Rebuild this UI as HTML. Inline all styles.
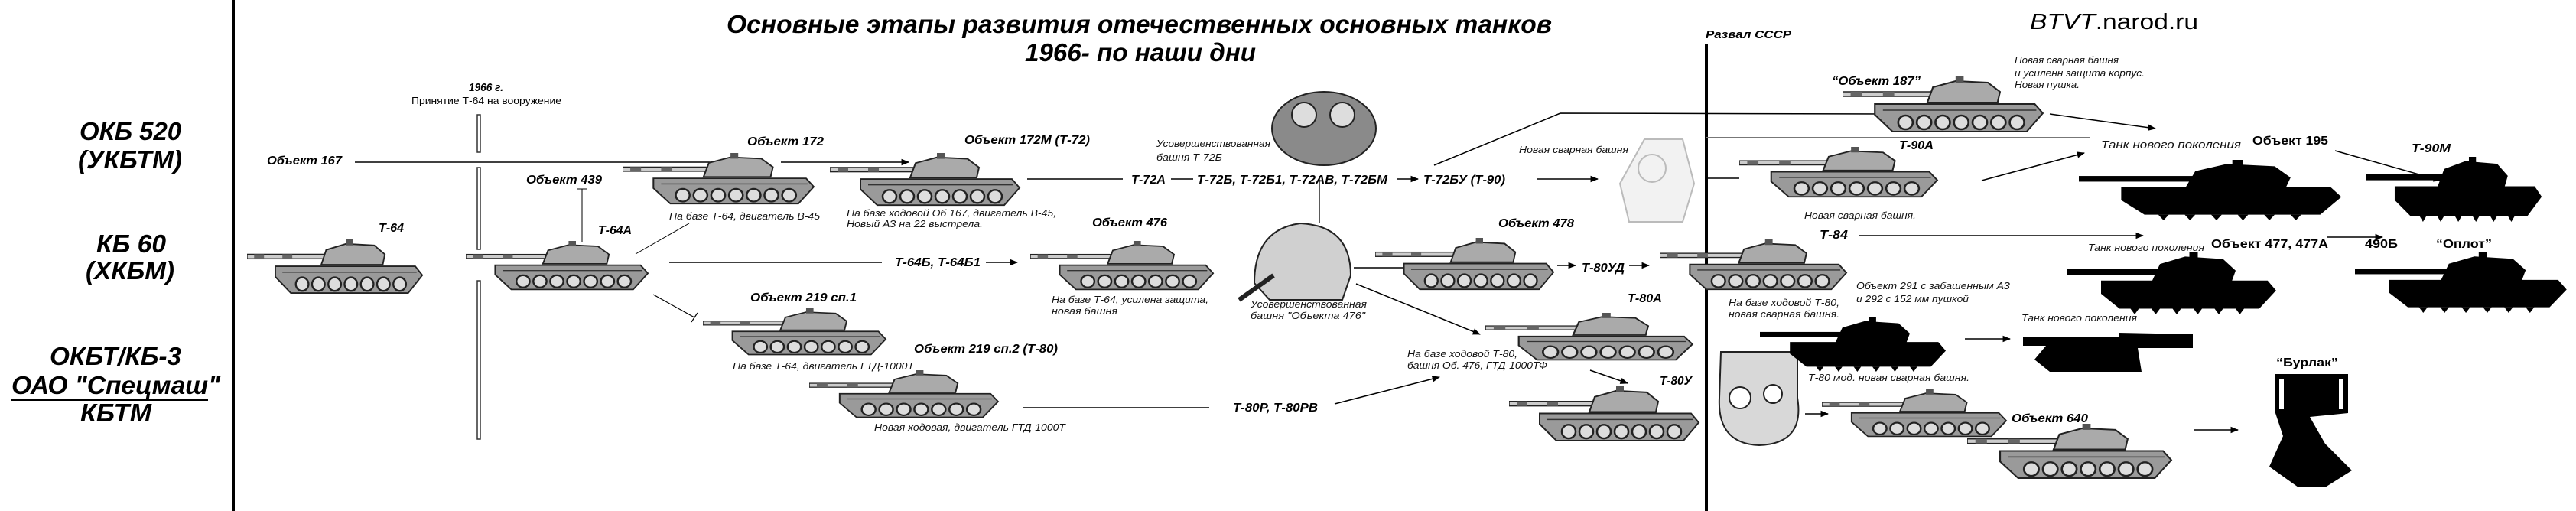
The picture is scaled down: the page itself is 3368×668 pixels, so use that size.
<!DOCTYPE html>
<html><head><meta charset="utf-8">
<style>
html,body{margin:0;padding:0;background:#fff;}
svg{display:block}
text{font-family:"Liberation Sans",sans-serif;}
.b{font-weight:bold;font-style:italic;}
.c{font-style:italic;}
</style></head>
<body>
<svg width="3368" height="668" viewBox="0 0 3368 668" xmlns="http://www.w3.org/2000/svg">
<defs>
<symbol id="lt" viewBox="0 0 250 75" preserveAspectRatio="none">
 <rect x="0" y="20" width="120" height="6" fill="#ccc" stroke="#222" stroke-width="1.5"/>
 <rect x="10" y="20" width="14" height="6" fill="#666"/>
 <rect x="50" y="20" width="14" height="6" fill="#666"/>
 <path d="M105 34 L112 14 L140 6 L180 8 L195 20 L192 34 Z" fill="#aaa" stroke="#222" stroke-width="2"/>
 <rect x="140" y="0" width="10" height="8" fill="#555"/>
 <path d="M40 36 L238 36 L248 48 L228 72 L62 72 L40 50 Z" fill="#9a9a9a" stroke="#222" stroke-width="2"/>
 <line x1="50" y1="44" x2="240" y2="44" stroke="#333" stroke-width="1.5"/>
 <g fill="#ddd" stroke="#222" stroke-width="2.5">
  <circle cx="78" cy="60" r="9"/><circle cx="101" cy="60" r="9"/><circle cx="124" cy="60" r="9"/>
  <circle cx="147" cy="60" r="9"/><circle cx="170" cy="60" r="9"/><circle cx="193" cy="60" r="9"/><circle cx="216" cy="60" r="9"/>
 </g>
</symbol>
<symbol id="st" viewBox="0 0 250 75" preserveAspectRatio="none">
 <rect x="0" y="20" width="120" height="7" fill="#000"/>
 <path d="M100 36 L110 14 L140 5 L185 8 L200 22 L195 36 Z" fill="#000"/>
 <rect x="145" y="0" width="10" height="8" fill="#000"/>
 <path d="M40 34 L238 34 L248 46 L228 68 L62 68 L40 50 Z" fill="#000"/>
 <g fill="#000">
  <path d="M75 68 L80 75 L85 68Z"/><path d="M100 68 L105 75 L110 68Z"/><path d="M125 68 L130 75 L135 68Z"/>
  <path d="M150 68 L155 75 L160 68Z"/><path d="M175 68 L180 75 L185 68Z"/><path d="M200 68 L205 75 L210 68Z"/>
 </g>
</symbol>
<marker id="ar" viewBox="0 0 10 10" refX="9" refY="5" markerWidth="7" markerHeight="7" orient="auto"><path d="M0 1 L10 5 L0 9 Z" fill="#000"/></marker>
</defs>

<rect x="303" y="0" width="4" height="668" fill="#000"/>
<g class="b" font-size="33" fill="#000">
 <text x="104" y="183" textLength="133" lengthAdjust="spacingAndGlyphs">ОКБ 520</text>
 <text x="102" y="220" textLength="136" lengthAdjust="spacingAndGlyphs">(УКБТМ)</text>
 <text x="126" y="330" textLength="91" lengthAdjust="spacingAndGlyphs">КБ 60</text>
 <text x="112" y="365" textLength="116" lengthAdjust="spacingAndGlyphs">(ХКБМ)</text>
 <text x="65" y="477" textLength="172" lengthAdjust="spacingAndGlyphs">ОКБТ/КБ-3</text>
 <text x="15" y="515" textLength="273" lengthAdjust="spacingAndGlyphs">ОАО "Спецмаш"</text>
 <text x="105" y="551" textLength="93" lengthAdjust="spacingAndGlyphs">КБТМ</text>
</g>
<rect x="15" y="521" width="257" height="3" fill="#000"/>

<g class="b" font-size="33">
 <text x="950" y="43" textLength="1079" lengthAdjust="spacingAndGlyphs">Основные этапы развития отечественных основных танков</text>
 <text x="1340" y="80" textLength="302" lengthAdjust="spacingAndGlyphs">1966- по наши дни</text>
</g>
<text x="2654" y="38" font-size="29" textLength="220" lengthAdjust="spacingAndGlyphs"><tspan font-style="italic">BTVT</tspan>.narod.ru</text>

<text class="b" x="613" y="119" font-size="15" textLength="45" lengthAdjust="spacingAndGlyphs">1966 г.</text>
<text x="538" y="136" font-size="13" textLength="196" lengthAdjust="spacingAndGlyphs">Принятие Т-64 на вооружение</text>
<g fill="#fff" stroke="#333" stroke-width="1.5">
 <rect x="624" y="150" width="4" height="49"/><rect x="624" y="219" width="4" height="107"/><rect x="624" y="367" width="4" height="207"/>
</g>

<text class="b" x="2230" y="50" font-size="15" textLength="112" lengthAdjust="spacingAndGlyphs">Развал СССР</text>
<rect x="2229" y="58" width="4" height="610" fill="#000"/>
<line x1="2231" y1="180" x2="2733" y2="180" stroke="#777" stroke-width="2"/>

<g stroke="#000" stroke-width="1.5" fill="none">
 <line x1="464" y1="212" x2="933" y2="212"/>
 <line x1="1021" y1="212" x2="1188" y2="212" marker-end="url(#ar)"/>
 <line x1="875" y1="343" x2="1153" y2="343"/>
 <line x1="1289" y1="343" x2="1330" y2="343" marker-end="url(#ar)"/>
 <line x1="761" y1="247" x2="761" y2="317" stroke-width="1"/>
 <line x1="755" y1="247" x2="767" y2="247" stroke-width="1"/>
 <line x1="831" y1="332" x2="901" y2="292" stroke-width="1"/>
 <line x1="854" y1="385" x2="908" y2="415" stroke-width="1.2"/>
 <line x1="904" y1="421" x2="912" y2="409" stroke-width="1.2"/>
 <line x1="1343" y1="234" x2="1468" y2="234"/>
 <line x1="1531" y1="234" x2="1560" y2="234"/>
 <line x1="1826" y1="234" x2="1854" y2="234" marker-end="url(#ar)"/>
 <line x1="2010" y1="234" x2="2089" y2="234" marker-end="url(#ar)"/>
 <polyline points="1875,216 2040,148 2468,149"/>
 <line x1="2468" y1="143" x2="2468" y2="155"/>
 <line x1="1770" y1="350" x2="1851" y2="350" marker-end="url(#ar)"/>
 <line x1="2036" y1="347" x2="2060" y2="347" marker-end="url(#ar)"/>
 <line x1="2130" y1="347" x2="2156" y2="347" marker-end="url(#ar)"/>
 <line x1="1773" y1="371" x2="1935" y2="437" marker-end="url(#ar)"/>
 <line x1="2079" y1="484" x2="2128" y2="501" marker-end="url(#ar)"/>
 <line x1="1338" y1="533" x2="1581" y2="533"/>
 <line x1="1745" y1="528" x2="1882" y2="493" marker-end="url(#ar)"/>
 <line x1="2680" y1="149" x2="2818" y2="168" marker-end="url(#ar)"/>
 <line x1="2591" y1="236" x2="2725" y2="200" marker-end="url(#ar)"/>
 <line x1="3053" y1="197" x2="3191" y2="236" marker-end="url(#ar)"/>
 <line x1="2231" y1="233" x2="2274" y2="233"/>
 <line x1="2431" y1="308" x2="2802" y2="308" marker-end="url(#ar)"/>
 <line x1="3042" y1="310" x2="3115" y2="310" marker-end="url(#ar)"/>
 <line x1="2569" y1="443" x2="2628" y2="443" marker-end="url(#ar)"/>
 <line x1="2360" y1="541" x2="2390" y2="541" marker-end="url(#ar)"/>
 <line x1="2869" y1="562" x2="2926" y2="562" marker-end="url(#ar)"/>
</g>

<use href="#lt" x="323" y="313" width="231" height="73"/>
<use href="#lt" x="609" y="315" width="240" height="66"/>
<use href="#lt" x="814" y="200" width="252" height="69"/>
<use href="#lt" x="1085" y="200" width="250" height="71"/>
<use href="#lt" x="919" y="403" width="241" height="63"/>
<use href="#lt" x="1058" y="484" width="249" height="64"/>
<use href="#lt" x="1347" y="315" width="241" height="66"/>
<use href="#lt" x="1798" y="311" width="235" height="70"/>
<use href="#lt" x="1942" y="409" width="273" height="64"/>
<use href="#lt" x="1973" y="505" width="250" height="74"/>
<use href="#lt" x="2409" y="100" width="264" height="75"/>
<use href="#lt" x="2274" y="192" width="261" height="68"/>
<use href="#lt" x="2170" y="313" width="246" height="68"/>
<use href="#lt" x="2382" y="509" width="243" height="64"/>
<use href="#lt" x="2572" y="554" width="269" height="74"/>

<g stroke="#222" stroke-width="2">
 <ellipse cx="1731" cy="168" rx="68" ry="48" fill="#8a8a8a"/>
 <circle cx="1705" cy="150" r="16" fill="#ddd"/><circle cx="1755" cy="150" r="16" fill="#ddd"/>
 <path d="M1640 370 Q1640 300 1700 292 Q1766 295 1766 360 L1755 392 L1660 392 Z" fill="#d0d0d0"/>
 <line x1="1620" y1="392" x2="1665" y2="360" stroke-width="6"/>
 <line x1="1725" y1="230" x2="1725" y2="292" stroke-width="1.5"/>
 <path d="M2118 240 L2150 182 L2200 182 L2215 240 L2200 290 L2130 290 Z" fill="#f2f2f2" stroke="#bbb"/>
 <circle cx="2160" cy="220" r="18" fill="none" stroke="#bbb"/>
 <path d="M2250 460 L2350 460 L2350 520 Q2360 580 2300 582 Q2245 580 2248 520 Z" fill="#d8d8d8"/>
 <circle cx="2275" cy="520" r="14" fill="#fff"/><circle cx="2318" cy="515" r="12" fill="#fff"/>
</g>

<use href="#st" x="2718" y="209" width="346" height="79"/>
<use href="#st" x="3094" y="205" width="231" height="85"/>
<use href="#st" x="2703" y="330" width="275" height="81"/>
<use href="#st" x="3079" y="330" width="279" height="79"/>
<use href="#st" x="2301" y="415" width="245" height="71"/>
<path d="M2645 440 L2770 440 L2770 435 L2867 437 L2867 455 L2795 455 L2800 486 L2680 486 L2660 470 L2675 452 L2645 452 Z" fill="#000"/>
<path d="M2975 489 L3070 489 L3070 540 L3020 545 L3040 580 L3075 615 L3040 637 L3005 637 L2967 610 L2985 570 L2975 540 Z" fill="#000"/>
<rect x="2980" y="495" width="6" height="40" fill="#fff"/><rect x="3058" y="495" width="6" height="40" fill="#fff"/>

<g class="b" font-size="16">
 <text x="349" y="215" textLength="98" lengthAdjust="spacingAndGlyphs">Объект 167</text>
 <text x="977" y="190" textLength="100" lengthAdjust="spacingAndGlyphs">Объект 172</text>
 <text x="495" y="303" textLength="33" lengthAdjust="spacingAndGlyphs">Т-64</text>
 <text x="782" y="306" textLength="44" lengthAdjust="spacingAndGlyphs">Т-64А</text>
 <text x="688" y="240" textLength="99" lengthAdjust="spacingAndGlyphs">Объект 439</text>
 <text x="981" y="394" textLength="139" lengthAdjust="spacingAndGlyphs">Объект 219 сп.1</text>
 <text x="1170" y="348" textLength="112" lengthAdjust="spacingAndGlyphs">Т-64Б, Т-64Б1</text>
 <text x="1261" y="188" textLength="164" lengthAdjust="spacingAndGlyphs">Объект 172М (Т-72)</text>
 <text x="1479" y="240" textLength="45" lengthAdjust="spacingAndGlyphs">Т-72А</text>
 <text x="1565" y="240" textLength="249" lengthAdjust="spacingAndGlyphs">Т-72Б, Т-72Б1, Т-72АВ, Т-72БМ</text>
 <text x="1861" y="240" textLength="107" lengthAdjust="spacingAndGlyphs">Т-72БУ (Т-90)</text>
 <text x="1428" y="296" textLength="98" lengthAdjust="spacingAndGlyphs">Объект 476</text>
 <text x="1959" y="297" textLength="99" lengthAdjust="spacingAndGlyphs">Объект 478</text>
 <text x="2068" y="355" textLength="56" lengthAdjust="spacingAndGlyphs">Т-80УД</text>
 <text x="2128" y="395" textLength="45" lengthAdjust="spacingAndGlyphs">Т-80А</text>
 <text x="2170" y="503" textLength="42" lengthAdjust="spacingAndGlyphs">Т-80У</text>
 <text x="1195" y="461" textLength="188" lengthAdjust="spacingAndGlyphs">Объект 219 сп.2 (Т-80)</text>
 <text x="1612" y="538" textLength="111" lengthAdjust="spacingAndGlyphs">Т-80Р, Т-80РВ</text>
 <text x="2395" y="111" textLength="116" lengthAdjust="spacingAndGlyphs">“Объект 187”</text>
 <text x="2483" y="195" textLength="45" lengthAdjust="spacingAndGlyphs">Т-90А</text>
 <text x="3153" y="199" textLength="51" lengthAdjust="spacingAndGlyphs">Т-90М</text>
 <text x="2379" y="312" textLength="37" lengthAdjust="spacingAndGlyphs">Т-84</text>
 <text x="2630" y="552" textLength="100" lengthAdjust="spacingAndGlyphs">Объект 640</text>
</g>
<g font-weight="bold" font-size="16">
 <text x="2945" y="189" textLength="99" lengthAdjust="spacingAndGlyphs">Объект 195</text>
 <text x="2891" y="324" textLength="153" lengthAdjust="spacingAndGlyphs">Объект 477, 477А</text>
 <text x="3092" y="324" textLength="43" lengthAdjust="spacingAndGlyphs">490Б</text>
 <text x="3185" y="324" textLength="73" lengthAdjust="spacingAndGlyphs">“Оплот”</text>
 <text x="2976" y="479" textLength="81" lengthAdjust="spacingAndGlyphs">“Бурлак”</text>
</g>
<g class="c" font-size="13" fill="#111">
 <text x="875" y="287" textLength="197" lengthAdjust="spacingAndGlyphs">На базе Т-64, двигатель В-45</text>
 <text x="958" y="483" textLength="237" lengthAdjust="spacingAndGlyphs">На базе Т-64, двигатель ГТД-1000Т</text>
 <text x="1107" y="283" textLength="274" lengthAdjust="spacingAndGlyphs">На базе ходовой Об 167, двигатель В-45,</text>
 <text x="1107" y="297" textLength="178" lengthAdjust="spacingAndGlyphs">Новый АЗ на 22 выстрела.</text>
 <text x="1512" y="192" textLength="149" lengthAdjust="spacingAndGlyphs">Усовершенствованная</text>
 <text x="1512" y="210" textLength="86" lengthAdjust="spacingAndGlyphs">башня Т-72Б</text>
 <text x="1986" y="200" textLength="143" lengthAdjust="spacingAndGlyphs">Новая сварная башня</text>
 <text x="1375" y="396" textLength="205" lengthAdjust="spacingAndGlyphs">На базе Т-64, усилена защита,</text>
 <text x="1375" y="411" textLength="86" lengthAdjust="spacingAndGlyphs">новая башня</text>
 <text x="1635" y="402" textLength="152" lengthAdjust="spacingAndGlyphs">Усовершенствованная</text>
 <text x="1635" y="417" textLength="150" lengthAdjust="spacingAndGlyphs">башня "Объекта 476"</text>
 <text x="1840" y="467" textLength="144" lengthAdjust="spacingAndGlyphs">На базе ходовой Т-80,</text>
 <text x="1840" y="482" textLength="183" lengthAdjust="spacingAndGlyphs">башня Об. 476, ГТД-1000ТФ</text>
 <text x="1143" y="563" textLength="250" lengthAdjust="spacingAndGlyphs">Новая ходовая, двигатель ГТД-1000Т</text>
 <text x="2634" y="83" textLength="136" lengthAdjust="spacingAndGlyphs">Новая сварная башня</text>
 <text x="2634" y="100" textLength="170" lengthAdjust="spacingAndGlyphs">и усиленн защита корпус.</text>
 <text x="2634" y="115" textLength="85" lengthAdjust="spacingAndGlyphs">Новая пушка.</text>
 <text x="2747" y="194" font-size="15" textLength="183" lengthAdjust="spacingAndGlyphs">Танк нового поколения</text>
 <text x="2359" y="286" textLength="146" lengthAdjust="spacingAndGlyphs">Новая сварная башня.</text>
 <text x="2260" y="400" textLength="145" lengthAdjust="spacingAndGlyphs">На базе ходовой Т-80,</text>
 <text x="2260" y="415" textLength="145" lengthAdjust="spacingAndGlyphs">новая сварная башня.</text>
 <text x="2730" y="328" textLength="152" lengthAdjust="spacingAndGlyphs">Танк нового поколения</text>
 <text x="2427" y="378" textLength="201" lengthAdjust="spacingAndGlyphs">Объект 291 с забашенным АЗ</text>
 <text x="2427" y="395" textLength="147" lengthAdjust="spacingAndGlyphs">и 292 с 152 мм пушкой</text>
 <text x="2643" y="420" textLength="151" lengthAdjust="spacingAndGlyphs">Танк нового поколения</text>
 <text x="2364" y="498" textLength="211" lengthAdjust="spacingAndGlyphs">Т-80 мод. новая сварная башня.</text>
</g>
</svg>
</body></html>
